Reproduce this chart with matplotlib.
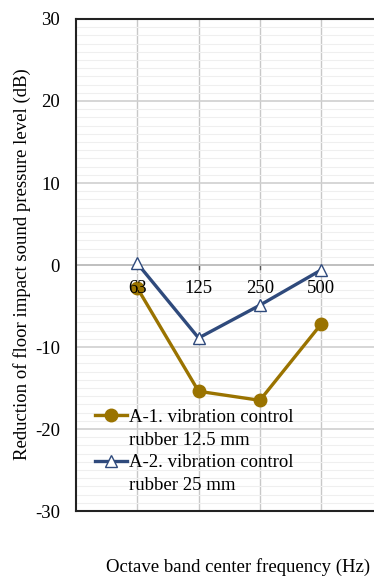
import matplotlib
matplotlib.use("Agg")
import matplotlib.pyplot as plt
from matplotlib.lines import Line2D
import numpy as np

categories = ["63", "125", "250", "500"]
a1_values = [-2.8, -15.4, -16.5, -7.2]
a2_values = [0.2, -8.9, -4.9, -0.6]
a1_label = ["A-1. vibration control", "rubber 12.5 mm"]
a2_label = ["A-2. vibration control", "rubber 25 mm"]
yticks = [-30, -20, -10, 0, 10, 20, 30]

plt.rcParams['font.family'] = ['Liberation Serif', 'DejaVu Serif']
plt.rcParams['font.size'] = 13.5
plt.rcParams['axes.unicode_minus'] = False

fig = plt.figure(figsize=(3.74, 5.79), dpi=100)
ax = fig.add_axes([0.2032, 0.1174, 0.8195, 0.8498])

x = np.arange(1, len(categories) + 1)
gold = '#9A7300'
navy = '#2F4A7C'

ax.set_xlim(0, 5)
ax.set_ylim(-30, 30)
ax.set_yticks(yticks)
ax.set_yticks(np.arange(-30, 31, 1), minor=True)
ax.grid(True, which='minor', axis='y', color='#EFEFEF', linewidth=0.8, zorder=0)
ax.grid(True, which='major', axis='y', color='#D0D0D0', linewidth=1.2, zorder=0)
ax.set_xticks([])
for xi in x:
    ax.axvline(xi, color='#C8C8C8', linewidth=1.0, zorder=0.5)
ax.axhline(0, color='#555555', linewidth=1.2, zorder=1)
ax.tick_params(axis='y', which='both', length=0, pad=11.5, labelsize=13.5)

for s in ['left', 'top', 'bottom']:
    ax.spines[s].set_color('#222222')
    ax.spines[s].set_linewidth(1.5)
ax.spines['right'].set_visible(False)

for xi, c in zip(x, categories):
    ax.text(xi, -1.85, c, ha='center', va='top', fontsize=13.5, zorder=5)
    ax.plot([xi, xi], [0, -0.5], color='#555555', linewidth=1.0, zorder=1)

l1, = ax.plot(x, a1_values, color=gold, linewidth=2.4, marker='o', markersize=9,
              markerfacecolor=gold, markeredgecolor=gold, zorder=3)
l2, = ax.plot(x, a2_values, color=navy, linewidth=2.4, marker='^', markersize=9,
              markerfacecolor='white', markeredgecolor=navy, markeredgewidth=1.0,
              zorder=4)

blank = Line2D([], [], linestyle='none')
leg = ax.legend([l1, blank, l2, blank],
                [a1_label[0], a1_label[1], a2_label[0], a2_label[1]],
                loc='upper left', bbox_to_anchor=(0.062, 0.208), frameon=False,
                handlelength=1.7, handletextpad=0.1, borderaxespad=0.0,
                borderpad=0.0, labelspacing=0.3, fontsize=13.5)

fig.text(0.059, 0.544, "Reduction of floor impact sound pressure level (dB)",
         rotation=90, ha='center', va='center', fontsize=13.5)
fig.text(0.636, 0.021, "Octave band center frequency (Hz)", ha='center',
         va='center', fontsize=13.5)

fig.savefig("out.png", dpi=100)
